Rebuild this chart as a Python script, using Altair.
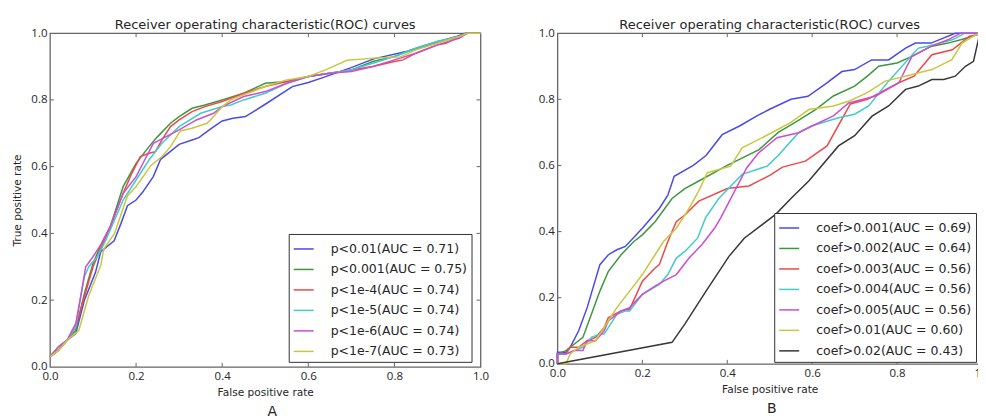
import altair as alt
import pandas as pd

FONT = "DejaVu Sans"
LFONT = "Open Sans"
TXT = "#262626"
FRAME = "#666666"

# ---------------- Panel A data ----------------
a_labels = ["p<0.01(AUC = 0.71)", "p<0.001(AUC = 0.75)", "p<1e-4(AUC = 0.74)",
            "p<1e-5(AUC = 0.74)", "p<1e-6(AUC = 0.74)", "p<1e-7(AUC = 0.73)"]
a_colors = ["#4a4ae8", "#3e983e", "#ee4848", "#40cccc", "#d04cd0", "#c8c840"]

a1_fpr = [0, 0.02, 0.04, 0.06, 0.08, 0.106, 0.118, 0.149, 0.165, 0.18, 0.2, 0.215, 0.24, 0.257, 0.3,
          0.33, 0.346, 0.37, 0.4, 0.425, 0.454, 0.5, 0.563, 0.6, 0.632, 0.698, 0.752, 0.83, 0.907,
          0.946, 0.965, 1.0]
a1_tpr = [0.03, 0.05, 0.08, 0.1, 0.2, 0.284, 0.345, 0.378, 0.43, 0.483, 0.5, 0.523, 0.57, 0.622,
          0.667, 0.68, 0.687, 0.71, 0.737, 0.745, 0.75, 0.787, 0.84, 0.852, 0.866, 0.896, 0.923,
          0.946, 0.976, 0.991, 1.0, 1.0]
a2_fpr = [0, 0.02, 0.04, 0.06, 0.08, 0.1, 0.12, 0.14, 0.17, 0.2, 0.23, 0.25, 0.28, 0.3, 0.33, 0.36,
          0.4, 0.45, 0.5, 0.55, 0.6, 0.65, 0.7, 0.75, 0.8, 0.85, 0.9, 0.95, 0.97, 1.0]
a2_tpr = [0.03, 0.06, 0.08, 0.11, 0.22, 0.31, 0.37, 0.42, 0.54, 0.61, 0.66, 0.69, 0.73, 0.75, 0.775,
          0.785, 0.8, 0.82, 0.85, 0.855, 0.87, 0.88, 0.89, 0.915, 0.93, 0.955, 0.975, 0.99, 1.0, 1.0]
a3_fpr = [0, 0.02, 0.04, 0.06, 0.08, 0.1, 0.12, 0.14, 0.17, 0.19, 0.21, 0.23, 0.245, 0.26, 0.28, 0.3,
          0.33, 0.36, 0.4, 0.45, 0.5, 0.55, 0.6, 0.65, 0.7, 0.75, 0.8, 0.82, 0.85, 0.9, 0.92, 0.95,
          0.97, 1.0]
a3_tpr = [0.03, 0.05, 0.08, 0.12, 0.21, 0.3, 0.36, 0.42, 0.52, 0.58, 0.63, 0.64, 0.645, 0.68, 0.72,
          0.74, 0.765, 0.78, 0.795, 0.82, 0.84, 0.855, 0.87, 0.88, 0.89, 0.9, 0.915, 0.92, 0.94,
          0.965, 0.97, 0.99, 1.0, 1.0]
a4_fpr = [0, 0.02, 0.04, 0.06, 0.07, 0.08, 0.09, 0.11, 0.13, 0.15, 0.17, 0.2, 0.23, 0.26, 0.3, 0.35,
          0.4, 0.42, 0.45, 0.5, 0.55, 0.6, 0.65, 0.7, 0.75, 0.8, 0.85, 0.9, 0.95, 0.97, 1.0]
a4_tpr = [0.03, 0.06, 0.08, 0.12, 0.2, 0.27, 0.3, 0.33, 0.38, 0.44, 0.5, 0.56, 0.62, 0.67, 0.72,
          0.76, 0.78, 0.785, 0.8, 0.82, 0.85, 0.87, 0.88, 0.89, 0.91, 0.93, 0.955, 0.975, 0.99,
          1.0, 1.0]
a5_fpr = [0, 0.02, 0.04, 0.06, 0.07, 0.083, 0.1, 0.12, 0.14, 0.17, 0.2, 0.22, 0.24, 0.27, 0.3, 0.34,
          0.38, 0.4, 0.45, 0.5, 0.55, 0.6, 0.65, 0.7, 0.75, 0.8, 0.85, 0.9, 0.95, 0.97, 1.0]
a5_tpr = [0.03, 0.06, 0.08, 0.13, 0.2, 0.3, 0.33, 0.37, 0.42, 0.52, 0.57, 0.62, 0.67, 0.69, 0.71,
          0.74, 0.76, 0.78, 0.81, 0.825, 0.85, 0.87, 0.88, 0.885, 0.9, 0.92, 0.94, 0.965, 0.985,
          1.0, 1.0]
a6_fpr = [0, 0.02, 0.04, 0.067, 0.09, 0.118, 0.125, 0.15, 0.18, 0.2, 0.234, 0.26, 0.28, 0.303, 0.33,
          0.365, 0.38, 0.4, 0.42, 0.45, 0.5, 0.55, 0.6, 0.64, 0.69, 0.76, 0.814, 0.85, 0.9, 0.95,
          0.97, 1.0]
a6_tpr = [0.03, 0.05, 0.08, 0.109, 0.214, 0.304, 0.353, 0.4, 0.513, 0.54, 0.603, 0.63, 0.66, 0.707,
          0.715, 0.73, 0.75, 0.78, 0.8, 0.815, 0.84, 0.86, 0.87, 0.89, 0.919, 0.926, 0.929, 0.95,
          0.97, 0.99, 1.0, 1.0]

# ---------------- Panel B data ----------------
b_labels = ["coef>0.001(AUC = 0.69)", "coef>0.002(AUC = 0.64)", "coef>0.003(AUC = 0.56)",
            "coef>0.004(AUC = 0.56)", "coef>0.005(AUC = 0.56)", "coef>0.01(AUC = 0.60)",
            "coef>0.02(AUC = 0.43)"]
b_colors = ["#4a4ae8", "#3e983e", "#ee4848", "#40cccc", "#d04cd0", "#c8c840", "#383838"]

b1_fpr = [0, 0, 0.02, 0.03, 0.05, 0.07, 0.1, 0.12, 0.14, 0.16, 0.2, 0.24, 0.26, 0.275, 0.32, 0.35,
          0.388, 0.43, 0.47, 0.5, 0.55, 0.59, 0.63, 0.67, 0.7, 0.74, 0.78, 0.82, 0.843, 0.88, 0.937, 1.0]
b1_tpr = [0, 0.035, 0.035, 0.05, 0.1, 0.17, 0.3, 0.33, 0.345, 0.355, 0.41, 0.47, 0.51, 0.567, 0.6,
          0.63, 0.693, 0.72, 0.75, 0.77, 0.8, 0.809, 0.845, 0.884, 0.89, 0.919, 0.919, 0.955, 0.97,
          0.97, 1.0, 1.0]
b2_fpr = [0, 0, 0.02, 0.04, 0.06, 0.08, 0.1, 0.12, 0.15, 0.18, 0.2, 0.23, 0.27, 0.3, 0.333, 0.4,
          0.475, 0.52, 0.56, 0.608, 0.65, 0.7, 0.73, 0.757, 0.8, 0.835, 0.88, 0.92, 0.95, 1.0]
b2_tpr = [0, 0.03, 0.04, 0.06, 0.08, 0.15, 0.22, 0.28, 0.33, 0.37, 0.39, 0.43, 0.5, 0.53, 0.553, 0.6,
          0.648, 0.7, 0.73, 0.769, 0.81, 0.84, 0.87, 0.9, 0.91, 0.93, 0.96, 0.97, 0.98, 1.0]
b3_fpr = [0, 0, 0.02, 0.03, 0.05, 0.07, 0.09, 0.11, 0.12, 0.15, 0.17, 0.2, 0.23, 0.24, 0.26, 0.28,
          0.3, 0.333, 0.4, 0.451, 0.5, 0.53, 0.584, 0.635, 0.69, 0.73, 0.804, 0.84, 0.882, 0.93,
          0.97, 1.0]
b3_tpr = [0, 0.03, 0.03, 0.05, 0.05, 0.07, 0.08, 0.11, 0.14, 0.16, 0.165, 0.25, 0.29, 0.3, 0.37,
          0.43, 0.45, 0.492, 0.53, 0.538, 0.57, 0.595, 0.613, 0.659, 0.786, 0.8, 0.85, 0.87, 0.935,
          0.95, 0.99, 1.0]
b4_fpr = [0, 0, 0.02, 0.04, 0.06, 0.08, 0.1, 0.11, 0.14, 0.16, 0.17, 0.2, 0.24, 0.26, 0.28, 0.3,
          0.33, 0.349, 0.38, 0.435, 0.494, 0.52, 0.568, 0.6, 0.662, 0.7, 0.733, 0.78, 0.85, 0.87,
          0.9, 0.93, 0.96, 1.0]
b4_tpr = [0, 0.03, 0.03, 0.04, 0.05, 0.08, 0.09, 0.09, 0.15, 0.16, 0.16, 0.21, 0.24, 0.27, 0.32,
          0.34, 0.38, 0.442, 0.5, 0.573, 0.598, 0.63, 0.699, 0.72, 0.744, 0.755, 0.78, 0.855, 0.955,
          0.96, 0.97, 0.98, 1.0, 1.0]
b5_fpr = [0, 0, 0.02, 0.04, 0.06, 0.07, 0.09, 0.11, 0.12, 0.15, 0.17, 0.2, 0.23, 0.25, 0.28, 0.31,
          0.34, 0.37, 0.385, 0.446, 0.474, 0.517, 0.568, 0.591, 0.65, 0.686, 0.75, 0.804, 0.835,
          0.88, 0.92, 0.95, 1.0]
b5_tpr = [0, 0.03, 0.03, 0.04, 0.04, 0.07, 0.07, 0.1, 0.13, 0.16, 0.17, 0.21, 0.235, 0.25, 0.27,
          0.32, 0.36, 0.41, 0.442, 0.593, 0.638, 0.684, 0.699, 0.714, 0.75, 0.789, 0.81, 0.85, 0.93,
          0.96, 0.98, 1.0, 1.0]
b6_fpr = [0, 0.02, 0.03, 0.05, 0.07, 0.09, 0.11, 0.14, 0.17, 0.2, 0.23, 0.25, 0.28, 0.31, 0.333,
          0.353, 0.408, 0.435, 0.49, 0.55, 0.592, 0.65, 0.686, 0.73, 0.772, 0.835, 0.882, 0.929,
          0.953, 0.985, 1.0]
b6_tpr = [0, 0.0, 0.03, 0.05, 0.06, 0.07, 0.11, 0.17, 0.22, 0.27, 0.33, 0.37, 0.41, 0.47, 0.523,
          0.578, 0.598, 0.653, 0.689, 0.73, 0.769, 0.78, 0.794, 0.82, 0.855, 0.875, 0.89, 0.92,
          0.97, 0.995, 1.0]
b7_fpr = [0, 0.27, 0.3, 0.35, 0.404, 0.44, 0.514, 0.55, 0.592, 0.662, 0.7, 0.741, 0.78, 0.82, 0.85,
          0.882, 0.91, 0.937, 0.961, 0.98, 0.987, 0.995, 1.0]
b7_tpr = [0, 0.065, 0.12, 0.22, 0.325, 0.38, 0.452, 0.5, 0.553, 0.659, 0.69, 0.749, 0.78, 0.83, 0.84,
          0.86, 0.86, 0.87, 0.9, 0.915, 0.955, 1.0, 1.0]

tick_vals = [0.2, 0.4, 0.6, 0.8]
axis_vals = [0.0, 0.2, 0.4, 0.6, 0.8, 1.0]


def make_df(labels, fprs, tprs):
    rows = []
    for lab, xs, ys in zip(labels, fprs, tprs):
        for i, (x, y) in enumerate(zip(xs, ys)):
            rows.append({"series": lab, "fpr": x, "tpr": y, "ord": i})
    return pd.DataFrame(rows)


def panel(df, labels, colors, W, H, ytitle, lx, ly, letter, ldx):
    xscale = alt.Scale(domain=[0, 1], nice=False, zero=False)
    yscale = alt.Scale(domain=[0, 1], nice=False, zero=False)
    common = dict(values=axis_vals, format=".1f", labelOverlap=False, labelFlush=False,
                  ticks=False, domain=False, grid=False,
                  labelFont=LFONT, labelFontSize=11.5, labelColor=TXT,
                  titleFont=FONT, titleFontSize=10.6, titleFontWeight="normal",
                  titleColor=TXT)
    if ytitle:
        yaxis = alt.Axis(title=ytitle, labelPadding=3, titlePadding=8, **common)
    else:
        yaxis = alt.Axis(title=None, labelPadding=3, **common)
    xaxis = alt.Axis(title="False positive rate", labelPadding=4, titlePadding=5, **common)
    lines = alt.Chart(df).mark_line(strokeWidth=1.5).encode(
        x=alt.X("fpr:Q", scale=xscale, axis=xaxis),
        y=alt.Y("tpr:Q", scale=yscale, axis=yaxis),
        color=alt.Color("series:N", sort=labels,
                        scale=alt.Scale(domain=labels, range=colors),
                        legend=alt.Legend(orient="none", legendX=lx, legendY=ly, title=None,
                                          symbolType="stroke", symbolSize=400,
                                          symbolStrokeWidth=1.5, labelFont=FONT,
                                          labelFontSize=12.5, labelColor=TXT, labelOffset=16,
                                          labelLimit=400, rowPadding=2.5, padding=4,
                                          strokeColor="#333333", fillColor="white",
                                          cornerRadius=0)),
        order="ord:Q",
    )
    tdf = pd.DataFrame({"t": tick_vals})
    tx = alt.X("t:Q", scale=xscale, axis=None)
    ty = alt.Y("t:Q", scale=yscale, axis=None)
    tick_b = alt.Chart(tdf).mark_rule(color=FRAME, strokeWidth=1).encode(
        x=tx, y=alt.value(H), y2=alt.value(H - 4))
    tick_t = alt.Chart(tdf).mark_rule(color=FRAME, strokeWidth=1).encode(
        x=tx, y=alt.value(0), y2=alt.value(4))
    tick_l = alt.Chart(tdf).mark_rule(color=FRAME, strokeWidth=1).encode(
        y=ty, x=alt.value(0), x2=alt.value(4))
    tick_r = alt.Chart(tdf).mark_rule(color=FRAME, strokeWidth=1).encode(
        y=ty, x=alt.value(W - 4), x2=alt.value(W))
    let = alt.Chart(pd.DataFrame({"k": [letter]})).mark_text(
        font=FONT, fontSize=14, color=TXT, baseline="middle", align="center").encode(
        x=alt.value(W / 2 + ldx), y=alt.value(H + 45), text="k:N")
    return alt.layer(lines, tick_b, tick_t, tick_l, tick_r, let).resolve_axis(
        x="independent", y="independent"
    ).properties(
        width=W, height=H,
        title=alt.Title("Receiver operating characteristic(ROC) curves", font=FONT,
                        fontSize=13, fontWeight="normal", color=TXT, offset=-5),
    )


a_df = make_df(a_labels, [a1_fpr, a2_fpr, a3_fpr, a4_fpr, a5_fpr, a6_fpr],
               [a1_tpr, a2_tpr, a3_tpr, a4_tpr, a5_tpr, a6_tpr])
b_df = make_df(b_labels, [b1_fpr, b2_fpr, b3_fpr, b4_fpr, b5_fpr, b6_fpr, b7_fpr],
               [b1_tpr, b2_tpr, b3_tpr, b4_tpr, b5_tpr, b6_tpr, b7_tpr])

pa = panel(a_df, a_labels, a_colors, 431, 334, "True positive rate", 239, 201, "A", 7)
pb = panel(b_df, b_labels, b_colors, 425, 331, None, 217, 180, "B", 2)

chart = alt.hconcat(pa, pb, spacing=48).resolve_scale(color="independent").configure_view(
    stroke=FRAME, strokeWidth=1.3
).properties(padding={"left": 4, "top": 10, "right": -13, "bottom": 0}, background="white")

chart.save("out.html", embed_options={"renderer": "svg", "actions": False})
